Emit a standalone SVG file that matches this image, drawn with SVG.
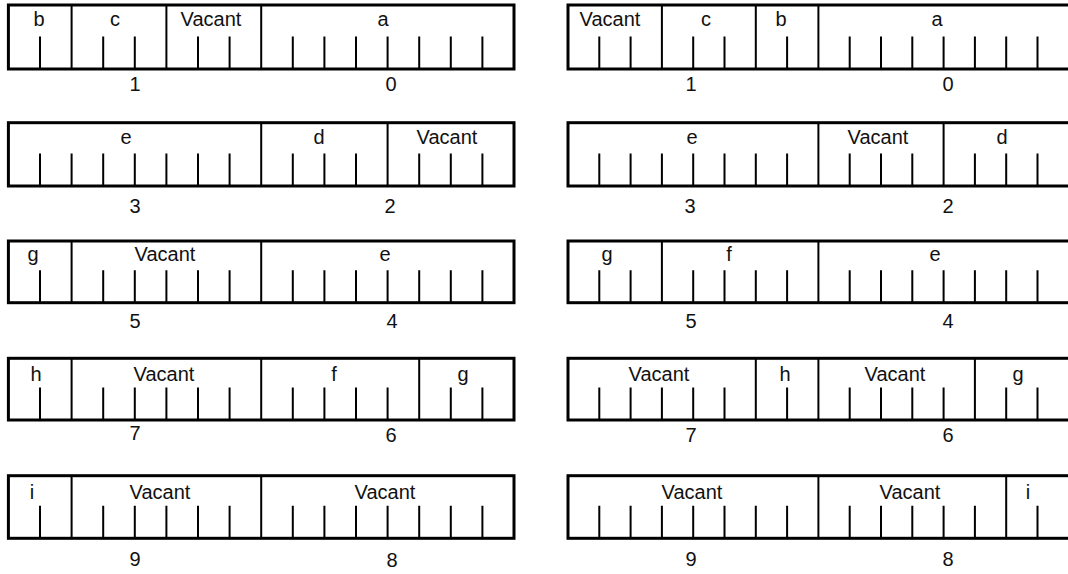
<svg xmlns="http://www.w3.org/2000/svg" width="1068" height="574" viewBox="0 0 1068 574">
<style>
.frame{fill:none;stroke:#000;stroke-width:3}
.sep{fill:none;stroke:#000;stroke-width:2}
.tick{fill:none;stroke:#000;stroke-width:2}
text{font-family:"Liberation Sans",Arial,sans-serif;font-size:20px;fill:#111;text-anchor:middle}
</style>
<rect width="1068" height="574" fill="#fff"/>
<g id="left-row0">
<rect class="frame" x="8.4" y="5" width="505.6" height="64"/>
<path class="sep" d="M71.6 5V69M166.4 5V69M261.2 5V69"/>
<path class="tick" d="M40 36.5v32.5M103.2 36.5v32.5M134.8 36.5v32.5M198 36.5v32.5M229.6 36.5v32.5M292.8 36.5v32.5M324.4 36.5v32.5M356 36.5v32.5M387.6 36.5v32.5M419.2 36.5v32.5M450.8 36.5v32.5M482.4 36.5v32.5"/>
<text x="39" y="26">b</text><text x="115" y="26">c</text><text x="211" y="26">Vacant</text><text x="383" y="26">a</text>
<text x="135" y="90.5">1</text><text x="391" y="90.5">0</text>
</g>
<g id="right-row0">
<rect class="frame" x="568" y="5" width="501.6" height="64"/>
<path class="sep" d="M661.9 5V69M755.8 5V69M818.4 5V69"/>
<path class="tick" d="M599.3 36.5v32.5M630.6 36.5v32.5M693.2 36.5v32.5M724.5 36.5v32.5M787.1 36.5v32.5M849.7 36.5v32.5M881 36.5v32.5M912.3 36.5v32.5M943.6 36.5v32.5M974.9 36.5v32.5M1006.2 36.5v32.5M1037.5 36.5v32.5"/>
<text x="610" y="26">Vacant</text><text x="706" y="26">c</text><text x="781" y="26">b</text><text x="937" y="26">a</text>
<text x="691" y="91">1</text><text x="948" y="91">0</text>
</g>
<g id="left-row1">
<rect class="frame" x="8.4" y="122.7" width="505.6" height="63.3"/>
<path class="sep" d="M261.2 122.7V186M387.6 122.7V186"/>
<path class="tick" d="M40 153.5v32.5M71.6 153.5v32.5M103.2 153.5v32.5M134.8 153.5v32.5M166.4 153.5v32.5M198 153.5v32.5M229.6 153.5v32.5M292.8 153.5v32.5M324.4 153.5v32.5M356 153.5v32.5M419.2 153.5v32.5M450.8 153.5v32.5M482.4 153.5v32.5"/>
<text x="126" y="144">e</text><text x="319" y="144">d</text><text x="447" y="144">Vacant</text>
<text x="135" y="213">3</text><text x="390" y="213">2</text>
</g>
<g id="right-row1">
<rect class="frame" x="568" y="122.7" width="501.6" height="63.3"/>
<path class="sep" d="M818.4 122.7V186M943.6 122.7V186"/>
<path class="tick" d="M599.3 153.5v32.5M630.6 153.5v32.5M661.9 153.5v32.5M693.2 153.5v32.5M724.5 153.5v32.5M755.8 153.5v32.5M787.1 153.5v32.5M849.7 153.5v32.5M881 153.5v32.5M912.3 153.5v32.5M974.9 153.5v32.5M1006.2 153.5v32.5M1037.5 153.5v32.5"/>
<text x="692" y="144">e</text><text x="878" y="144">Vacant</text><text x="1002" y="144">d</text>
<text x="690" y="213">3</text><text x="948" y="213">2</text>
</g>
<g id="left-row2">
<rect class="frame" x="8.4" y="241" width="505.6" height="61.7"/>
<path class="sep" d="M71.6 241V302.7M261.2 241V302.7"/>
<path class="tick" d="M40 270.2v32.5M103.2 270.2v32.5M134.8 270.2v32.5M166.4 270.2v32.5M198 270.2v32.5M229.6 270.2v32.5M292.8 270.2v32.5M324.4 270.2v32.5M356 270.2v32.5M387.6 270.2v32.5M419.2 270.2v32.5M450.8 270.2v32.5M482.4 270.2v32.5"/>
<text x="33" y="261">g</text><text x="165" y="261">Vacant</text><text x="385" y="261">e</text>
<text x="135" y="327.5">5</text><text x="392" y="328">4</text>
</g>
<g id="right-row2">
<rect class="frame" x="568" y="241" width="501.6" height="61.7"/>
<path class="sep" d="M661.9 241V302.7M818.4 241V302.7"/>
<path class="tick" d="M599.3 270.2v32.5M630.6 270.2v32.5M693.2 270.2v32.5M724.5 270.2v32.5M755.8 270.2v32.5M787.1 270.2v32.5M849.7 270.2v32.5M881 270.2v32.5M912.3 270.2v32.5M943.6 270.2v32.5M974.9 270.2v32.5M1006.2 270.2v32.5M1037.5 270.2v32.5"/>
<text x="607" y="261">g</text><text x="729" y="261">f</text><text x="935" y="261">e</text>
<text x="691" y="328">5</text><text x="948" y="328">4</text>
</g>
<g id="left-row3">
<rect class="frame" x="8.4" y="358.3" width="505.6" height="61.7"/>
<path class="sep" d="M71.6 358.3V420M261.2 358.3V420M419.2 358.3V420"/>
<path class="tick" d="M40 387.5v32.5M103.2 387.5v32.5M134.8 387.5v32.5M166.4 387.5v32.5M198 387.5v32.5M229.6 387.5v32.5M292.8 387.5v32.5M324.4 387.5v32.5M356 387.5v32.5M387.6 387.5v32.5M450.8 387.5v32.5M482.4 387.5v32.5"/>
<text x="36" y="381">h</text><text x="164" y="381">Vacant</text><text x="334" y="381">f</text><text x="463" y="381">g</text>
<text x="135" y="439.5">7</text><text x="391" y="441.5">6</text>
</g>
<g id="right-row3">
<rect class="frame" x="568" y="358.3" width="501.6" height="61.7"/>
<path class="sep" d="M755.8 358.3V420M818.4 358.3V420M974.9 358.3V420"/>
<path class="tick" d="M599.3 387.5v32.5M630.6 387.5v32.5M661.9 387.5v32.5M693.2 387.5v32.5M724.5 387.5v32.5M787.1 387.5v32.5M849.7 387.5v32.5M881 387.5v32.5M912.3 387.5v32.5M943.6 387.5v32.5M1006.2 387.5v32.5M1037.5 387.5v32.5"/>
<text x="659" y="381">Vacant</text><text x="785" y="381">h</text><text x="895" y="381">Vacant</text><text x="1018" y="381">g</text>
<text x="691" y="441.5">7</text><text x="948" y="441.5">6</text>
</g>
<g id="left-row4">
<rect class="frame" x="8.4" y="475.7" width="505.6" height="62.6"/>
<path class="sep" d="M71.6 475.7V538.3M261.2 475.7V538.3"/>
<path class="tick" d="M40 505.8v32.5M103.2 505.8v32.5M134.8 505.8v32.5M166.4 505.8v32.5M198 505.8v32.5M229.6 505.8v32.5M292.8 505.8v32.5M324.4 505.8v32.5M356 505.8v32.5M387.6 505.8v32.5M419.2 505.8v32.5M450.8 505.8v32.5M482.4 505.8v32.5"/>
<text x="32" y="499">i</text><text x="160" y="499">Vacant</text><text x="385" y="499">Vacant</text>
<text x="135" y="566">9</text><text x="392" y="566.5">8</text>
</g>
<g id="right-row4">
<rect class="frame" x="568" y="475.7" width="501.6" height="62.6"/>
<path class="sep" d="M818.4 475.7V538.3M1006.2 475.7V538.3"/>
<path class="tick" d="M599.3 505.8v32.5M630.6 505.8v32.5M661.9 505.8v32.5M693.2 505.8v32.5M724.5 505.8v32.5M755.8 505.8v32.5M787.1 505.8v32.5M849.7 505.8v32.5M881 505.8v32.5M912.3 505.8v32.5M943.6 505.8v32.5M974.9 505.8v32.5M1037.5 505.8v32.5"/>
<text x="692" y="499">Vacant</text><text x="910" y="499">Vacant</text><text x="1028" y="499">i</text>
<text x="691" y="566">9</text><text x="948" y="566">8</text>
</g>
</svg>
